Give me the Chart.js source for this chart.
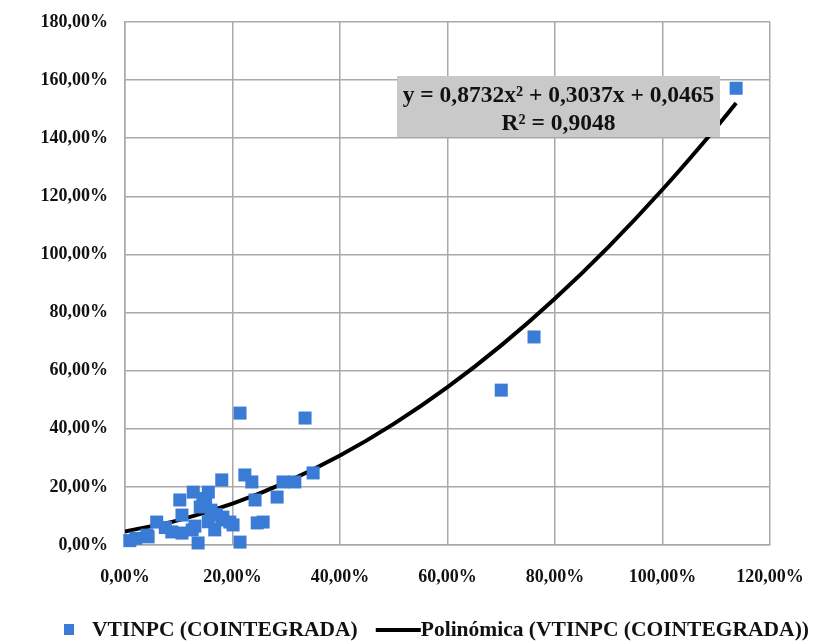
<!DOCTYPE html>
<html>
<head>
<meta charset="utf-8">
<script src="https://cdn.jsdelivr.net/npm/chart.js@4"></script>
<style>
  body { margin: 0; background: #fff; }
  #wrap { width: 819px; height: 644px; }
</style>
</head>
<body>
<div id="wrap"><canvas id="chart" width="819" height="644"></canvas></div>
<script>
// Scatter points (x and y in %)
const pointsX = [113.7, 76.1, 70.0, 21.4, 33.5, 35.0, 29.4, 31.6, 28.3, 22.3, 23.6, 24.2, 18.0, 24.6, 25.7,
                 21.4, 13.6, 12.7, 15.5, 10.2, 14.5, 14.0, 10.6, 5.9, 0.9, 4.1, 19.5, 20.1, 18.2, 8.7,
                 10.6, 12.5, 16.7, 18.0, 17.0, 15.5, 16.0, 2.0, 7.5, 13.0, 15.0, 4.3];
const pointsY = [157.2, 71.6, 53.3, 45.4, 43.7, 24.8, 21.7, 21.7, 16.5, 24.1, 21.7, 15.5, 22.4, 7.6, 7.9,
                 1.0, 0.7, 18.2, 18.2, 15.5, 14.4, 13.1, 10.3, 7.9, 1.5, 3.4, 7.9, 6.9, 9.6, 4.5,
                 4.1, 5.2, 5.2, 8.6, 10.5, 8.0, 12.0, 2.3, 6.0, 6.5, 16.0, 2.8];

// Polynomial trend line
const trendX = [0, 10, 20, 30, 40, 50, 60, 70, 80, 90, 100, 110, 113.7];
const trendY = [4.65, 8.56, 14.21, 21.62, 30.77, 41.67, 54.31, 68.70, 84.83, 102.71, 122.34, 143.71, 152.1];

const xTicks = [0, 20, 40, 60, 80, 100, 120];
const yTicks = [0, 20, 40, 60, 80, 100, 120, 140, 160, 180];

const seriesName = 'VTINPC (COINTEGRADA)';
const trendName = 'Polinómica (VTINPC (COINTEGRADA))';
const eqLine1 = 'y = 0,8732x² + 0,3037x + 0,0465';
const eqLine2 = 'R² = 0,9048';

const blue = '#3a7bd5';
const gridColor = '#a9a9a9';
const serif = '"Liberation Serif", "Times New Roman", serif';

function pct(v) {
    return v.toFixed(2).replace('.', ',') + '%';
}

// Equation box and legend drawn on top
const extras = {
    id: 'extras',
    afterDraw(chart) {
        const ctx = chart.ctx;
        const area = chart.chartArea;
        ctx.save();

        // equation box
        const bx = area.left + 272, by = area.top + 54, bw = 323, bh = 61;
        ctx.fillStyle = '#c9c9c9';
        ctx.fillRect(bx, by, bw, bh);
        ctx.fillStyle = '#111';
        ctx.font = 'bold 23.5px ' + serif;
        ctx.textAlign = 'center';
        ctx.textBaseline = 'alphabetic';
        ctx.fillText(eqLine1, bx + bw / 2, by + 26);
        ctx.fillText(eqLine2, bx + bw / 2, by + 54);

        // legend
        const ly = 630;
        ctx.font = 'bold 21.5px ' + serif;
        ctx.textAlign = 'left';
        ctx.textBaseline = 'middle';
        ctx.fillStyle = blue;
        ctx.fillRect(64, ly - 6, 10, 11);
        ctx.fillStyle = '#111';
        ctx.fillText(seriesName, 92, ly);
        const end1 = 92 + ctx.measureText(seriesName).width;
        ctx.strokeStyle = '#000';
        ctx.lineWidth = 4;
        ctx.beginPath();
        ctx.moveTo(end1 + 18, ly);
        ctx.lineTo(end1 + 63, ly);
        ctx.stroke();
        ctx.fillText(trendName, end1 + 63, ly);
        ctx.restore();
    }
};

new Chart(document.getElementById('chart'), {
    type: 'scatter',
    data: {
        datasets: [
            {
                label: seriesName,
                data: pointsX.map((x, i) => ({ x: x, y: pointsY[i] })),
                pointStyle: 'rect',
                pointRadius: 9.2,
                pointHoverRadius: 9.2,
                backgroundColor: blue,
                borderColor: blue,
                borderWidth: 0,
                clip: false
            },
            {
                label: trendName,
                type: 'line',
                data: trendX.map((x, i) => ({ x: x, y: trendY[i] })),
                borderColor: '#000',
                borderWidth: 4,
                pointRadius: 0,
                tension: 0.4,
                cubicInterpolationMode: 'monotone',
                fill: false
            }
        ]
    },
    options: {
        responsive: false,
        animation: false,
        layout: { padding: { left: 0, right: 49, top: 22, bottom: 49 } },
        plugins: {
            legend: { display: false },
            tooltip: { enabled: false }
        },
        scales: {
            x: {
                type: 'linear',
                min: 0,
                max: 120,
                afterBuildTicks(scale) { scale.ticks = xTicks.map(v => ({ value: v })); },
                afterFit(scale) {
                    scale.height = 50;
                    scale.paddingLeft = 0;
                    scale.paddingRight = 0;
                },
                grid: { color: gridColor, lineWidth: 1.5, drawTicks: false },
                border: { color: gridColor, width: 1.5 },
                ticks: {
                    padding: 22,
                    color: '#111',
                    font: { family: serif, size: 18, weight: 'bold' },
                    callback: v => pct(v)
                }
            },
            y: {
                type: 'linear',
                min: 0,
                max: 180,
                afterBuildTicks(scale) { scale.ticks = yTicks.map(v => ({ value: v })); },
                afterFit(scale) {
                    scale.width = 125;
                    scale.paddingTop = 0;
                    scale.paddingBottom = 0;
                },
                grid: { color: gridColor, lineWidth: 1.5, drawTicks: false },
                border: { color: gridColor, width: 1.5 },
                ticks: {
                    padding: 17,
                    color: '#111',
                    font: { family: serif, size: 18, weight: 'bold' },
                    callback: v => pct(v)
                }
            }
        }
    },
    plugins: [extras]
});
</script>
</body>
</html>
